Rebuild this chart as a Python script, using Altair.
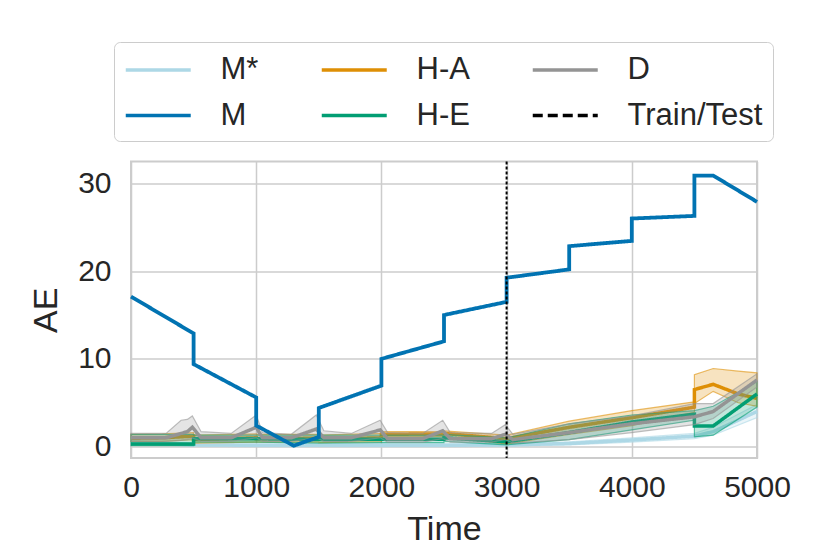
import altair as alt
import pandas as pd

# ---------------- data ----------------
SERIES = ["M*", "M", "H-A", "H-E", "D", "Train/Test"]
COLORS = ["#add8e6", "#0173b2", "#de8f05", "#029e73", "#949494", "#000000"]
DASHES = [[1, 0], [1, 0], [1, 0], [1, 0], [1, 0], [10, 5]]
BAND_SERIES = ["M*", "H-A", "H-E", "D"]
BAND_COLORS = ["#add8e6", "#de8f05", "#029e73", "#949494"]

# M* (light blue)
MS_T = [0, 500, 1000, 1500, 2000, 2500, 3000, 3500, 4000, 4500, 4650, 5000]
MS_Y = [0.5, 0.2, 0.15, 0.15, 0.15, 0.15, 0.2, 0.35, 0.75, 1.2, 1.7, 4.0]
MS_LO = [0.3, 0.05, 0.0, 0.0, 0.0, 0.0, 0.05, 0.2, 0.5, 0.9, 1.3, 3.3]
MS_HI = [0.7, 0.35, 0.3, 0.3, 0.3, 0.3, 0.4, 0.55, 1.0, 1.5, 2.2, 4.8]

# M (dark blue)
M_T = [0, 500, 500, 1000, 1000, 1300, 1500, 1500, 2000, 2000, 2500, 2500,
       3000, 3000, 3500, 3500, 4000, 4000, 4500, 4500, 4650, 5000]
M_Y = [17.1, 12.9, 9.4, 5.6, 2.4, 0.1, 1.1, 4.4, 6.95, 10.0, 12.0, 15.0,
       16.5, 19.25, 20.2, 22.85, 23.45, 26.0, 26.3, 30.9, 30.9, 27.9]

# H-A (orange)
HA_T = [0, 250, 500, 500, 1000, 1000, 1500, 1500, 2000, 2000, 2500, 2500,
        3000, 3500, 4000, 4500, 4500, 4650, 4850, 5000]
HA_Y = [0.95, 1.0, 1.2, 0.8, 1.0, 0.9, 0.95, 0.85, 1.0, 1.4, 1.45, 1.5,
        0.9, 2.2, 3.3, 4.5, 6.5, 7.1, 6.0, 5.5]
HA_LO = [0.6, 0.6, 0.8, 0.4, 0.5, 0.5, 0.5, 0.45, 0.55, 1.1, 1.15, 1.1,
         0.3, 1.4, 2.4, 3.9, 4.9, 6.3, 5.0, 4.6]
HA_HI = [1.4, 1.45, 1.6, 1.3, 1.45, 1.4, 1.4, 1.3, 1.5, 1.7, 1.75, 1.8,
         1.3, 2.9, 4.1, 5.1, 8.2, 8.9, 8.6, 8.4]

# H-E (green)
HE_T = [0, 500, 500, 1000, 1500, 2000, 2500, 2500, 3000, 3500, 4000,
        4500, 4500, 4650, 5000]
HE_Y = [0.3, 0.3, 0.9, 0.9, 0.8, 0.85, 0.85, 1.0, 0.55, 1.6, 2.8,
        3.7, 2.35, 2.35, 6.0]
HE_LO = [0.1, 0.1, 0.5, 0.5, 0.4, 0.45, 0.45, 0.6, 0.2, 0.8, 1.9,
         3.0, 1.1, 1.3, 4.5]
HE_HI = [1.4, 1.4, 1.3, 1.3, 1.3, 1.3, 1.3, 1.4, 1.0, 2.6, 3.6,
         4.1, 4.1, 4.6, 7.4]

# D (gray)
D_T = [0, 280, 400, 450, 490, 560, 800, 1000, 1050, 1280, 1480, 1540, 1760,
       1990, 2050, 2330, 2490, 2550, 2880, 2990, 3050, 3500, 4000, 4500, 4650, 5000]
D_Y = [1.0, 1.0, 1.5, 1.7, 2.2, 1.0, 1.0, 2.2, 1.0, 1.0, 2.0, 1.0, 1.0,
       1.9, 0.9, 0.9, 1.8, 0.9, 0.9, 1.4, 0.8, 1.6, 2.6, 3.4, 4.0, 7.6]
D_LO = [0.6, 0.6, 0.7, 0.8, 1.0, 0.6, 0.6, 1.0, 0.6, 0.6, 1.0, 0.6, 0.6,
        1.0, 0.5, 0.5, 0.9, 0.5, 0.5, 0.8, 0.4, 0.8, 1.6, 2.5, 3.2, 6.8]
D_HI = [1.5, 1.5, 3.0, 3.1, 3.5, 1.7, 1.5, 3.6, 1.6, 1.4, 3.6, 1.8, 1.5,
        3.0, 1.6, 1.5, 3.0, 1.6, 1.5, 2.5, 1.4, 2.6, 3.5, 4.9, 4.9, 8.3]

SPLIT_T = [3000]

X_TICKS = [0, 1000, 2000, 3000, 4000, 5000]
Y_TICKS = [0, 10, 20, 30]

# ---------------- chart ----------------
FONT = "Liberation Sans"
TXT = "#262626"

def frame(name, t, y, lo=None, hi=None):
    d = {"series": name, "t": t, "mean": y}
    if lo is not None:
        d["lo"] = lo
        d["hi"] = hi
    return pd.DataFrame(d)

x_enc = alt.X("t:Q", title="Time",
              scale=alt.Scale(domain=[0, 5000], nice=False, zero=False),
              axis=alt.Axis(values=X_TICKS, format="d", labelFlush=False))
y_axis = alt.Axis(values=Y_TICKS, format="d")
y_scale = alt.Scale(domain=[-1.3, 32.5], nice=False, zero=False)
color_scale = alt.Scale(domain=SERIES, range=COLORS)
dash_scale = alt.Scale(domain=SERIES, range=DASHES)
band_scale = alt.Scale(domain=BAND_SERIES, range=BAND_COLORS)

legend = alt.Legend(
    orient="none", legendX=-17, legendY=-119.5, columns=3,
    symbolType="M-1,0H3", symbolSize=1056, symbolStrokeWidth=3.5,
    labelFont=FONT, labelFontSize=31, labelColor=TXT, labelOffset=60.5,
    labelLimit=400, columnPadding=55, rowPadding=12.5, padding=10,
    strokeColor="#cccccc", cornerRadius=6, fillColor="white",
)

def band(df):
    return alt.Chart(df).mark_area(fillOpacity=0.25, strokeOpacity=0.6, strokeWidth=1.2).encode(
        x=x_enc,
        y=alt.Y("lo:Q", title="AE", scale=y_scale, axis=y_axis),
        y2="hi:Q",
        fill=alt.Fill("series:N", scale=band_scale, legend=None),
        stroke=alt.Stroke("series:N", scale=band_scale, legend=None),
    )

def line(df, width=3.5):
    return alt.Chart(df).mark_line(strokeWidth=width).encode(
        x=x_enc,
        y=alt.Y("mean:Q", title="AE", scale=y_scale, axis=y_axis),
        color=alt.Color("series:N", scale=color_scale, legend=legend, title=None),
        strokeDash=alt.StrokeDash("series:N", scale=dash_scale, legend=legend, title=None),
    )

ms = frame("M*", MS_T, MS_Y, MS_LO, MS_HI)
m = frame("M", M_T, M_Y)
ha = frame("H-A", HA_T, HA_Y, HA_LO, HA_HI)
he = frame("H-E", HE_T, HE_Y, HE_LO, HE_HI)
dd = frame("D", D_T, D_Y, D_LO, D_HI)
split = pd.DataFrame({"series": ["Train/Test"], "t": SPLIT_T})

rule = alt.Chart(split).mark_rule(strokeWidth=2, strokeDash=[3, 2]).encode(
    x=x_enc,
    color=alt.Color("series:N", scale=color_scale, legend=legend, title=None),
)

chart = alt.layer(
    band(ms), line(ms),
    band(ha), line(ha),
    band(he), line(he),
    band(dd), line(dd),
    line(m, 3.8),
    rule,
).properties(
    width=626, height=296.5,
    autosize=alt.AutoSizeParams(type="none"),
    padding={"left": 123, "top": 153.5, "right": 50, "bottom": 90},
).configure_axis(
    grid=True, gridColor="#cccccc", gridWidth=1.5, domain=False, ticks=False,
    labelFont=FONT, labelFontSize=30, labelColor=TXT,
    titleFont=FONT, titleFontSize=34, titleColor=TXT, titleFontWeight="normal",
).configure_axisX(
    labelPadding=14, titlePadding=10,
).configure_axisY(
    labelPadding=20, titlePadding=14,
).configure_view(
    stroke="#cccccc", strokeWidth=2,
)

chart.save("out.html", embed_options={"renderer": "svg", "actions": False})
